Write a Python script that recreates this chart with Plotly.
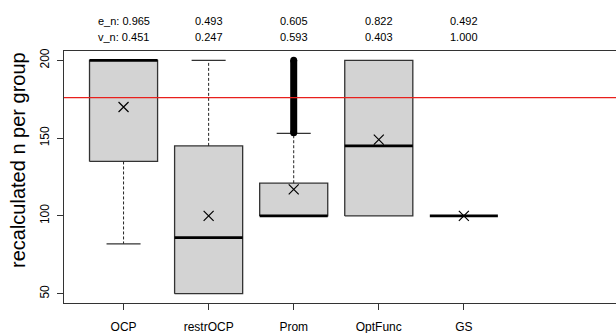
import plotly.graph_objects as go

groups = ["OCP", "restrOCP", "Prom", "OptFunc", "GS"]
q1 = [135, 50, 100, 100, 100]
median = [200, 86, 100, 145, 100]
q3 = [200, 145, 121, 200, 100]
lower_whisker = [82, 50, 100, 100, 100]
upper_whisker = [200, 200, 153, 200, 100]
means = [170, 100, 117, 149, 100]
prom_outlier_range = [153.5, 200]
e_n = ["0.965", "0.493", "0.605", "0.822", "0.492"]
v_n = ["0.451", "0.247", "0.593", "0.403", "1.000"]
ref_line = 176

W, H = 616, 333
L, R, T, B = 64, 0, 51, 30
plot_w = W - L - R
plot_h = H - T - B
x0 = 0.3
x1 = 1 + (W - R - 124) / 85.0
y0, y1 = 44, 206

pos = list(range(1, len(groups) + 1))
half = 0.4
cap = 0.2

fig = go.Figure()

# boxes
for i, p in enumerate(pos):
    if q3[i] > q1[i]:
        fig.add_trace(go.Scatter(
            x=[p - half, p + half, p + half, p - half, p - half],
            y=[q1[i], q1[i], q3[i], q3[i], q1[i]],
            mode="lines", fill="toself", fillcolor="#d3d3d3",
            line=dict(color="#333333", width=1.3), hoverinfo="skip"))

# whiskers (dashed) and caps
wx, wy, cx, cy = [], [], [], []
for i, p in enumerate(pos):
    if lower_whisker[i] < q1[i]:
        wx += [p, p, None]; wy += [q1[i], lower_whisker[i], None]
        cx += [p - cap, p + cap, None]; cy += [lower_whisker[i], lower_whisker[i], None]
    if upper_whisker[i] > q3[i]:
        wx += [p, p, None]; wy += [q3[i], upper_whisker[i], None]
        cx += [p - cap, p + cap, None]; cy += [upper_whisker[i], upper_whisker[i], None]
fig.add_trace(go.Scatter(x=wx, y=wy, mode="lines",
                         line=dict(color="#222222", width=1, dash="3px,2px"), hoverinfo="skip"))
fig.add_trace(go.Scatter(x=cx, y=cy, mode="lines",
                         line=dict(color="#333333", width=1.3), hoverinfo="skip"))

# medians
mx, my = [], []
for i, p in enumerate(pos):
    mx += [p - half, p + half, None]; my += [median[i], median[i], None]
fig.add_trace(go.Scatter(x=mx, y=my, mode="lines",
                         line=dict(color="black", width=2.7), hoverinfo="skip"))

# Prom outliers (dense)
prom_x = pos[groups.index("Prom")]
fig.add_trace(go.Scatter(x=[prom_x, prom_x], y=prom_outlier_range, mode="lines+markers",
                         line=dict(color="black", width=7),
                         marker=dict(symbol="circle", size=7, color="black"), hoverinfo="skip"))

# means
fig.add_trace(go.Scatter(x=pos, y=means, mode="markers",
                         marker=dict(symbol="x-thin-open", size=10, color="black",
                                     line=dict(color="black", width=1.2)), hoverinfo="skip"))

# reference line
fig.add_trace(go.Scatter(x=[x0, x1], y=[ref_line, ref_line], mode="lines",
                         line=dict(color="#e8201c", width=1.1), hoverinfo="skip"))

# top annotations
for i, p in enumerate(pos):
    t1 = ("e_n: " if i == 0 else "") + e_n[i]
    t2 = ("v_n: " if i == 0 else "") + v_n[i]
    fig.add_annotation(x=p, y=(T + plot_h - 21) / plot_h, xref="x", yref="paper",
                       text=t1, showarrow=False, font=dict(size=11, color="black"),
                       xanchor="center", yanchor="middle")
    fig.add_annotation(x=p, y=(T + plot_h - 37) / plot_h, xref="x", yref="paper",
                       text=t2, showarrow=False, font=dict(size=11, color="black"),
                       xanchor="center", yanchor="middle")

# y title
fig.add_annotation(x=(18 - L) / plot_w, y=(T + plot_h - 160) / plot_h, xref="paper", yref="paper",
                   text="recalculated n per group", textangle=-90, showarrow=False,
                   font=dict(size=20, color="black"), xanchor="center", yanchor="middle")

fig.update_layout(
    width=W, height=H, margin=dict(l=L, r=R, t=T, b=B, autoexpand=False),
    paper_bgcolor="white", plot_bgcolor="white", showlegend=False,
    font=dict(family="Liberation Sans, Arial, sans-serif", color="black"),
    xaxis=dict(range=[x0, x1], tickvals=pos, ticktext=groups, ticks="outside", ticklen=6,
               tickcolor="#333", showline=True, linecolor="#333", linewidth=1.3, mirror=True,
               showgrid=False, zeroline=False, tickfont=dict(size=12), ticklabelstandoff=6,
               automargin=False),
    yaxis=dict(range=[y0, y1], tickvals=[50, 100, 150, 200], tickangle=-90, ticks="outside",
               ticklen=6, tickcolor="#333", showline=True, linecolor="#333", linewidth=1.3,
               showgrid=False, zeroline=False, tickfont=dict(size=12), ticklabelstandoff=3,
               automargin=False),
)

fig.write_html("out.html", config={"displayModeBar": False},
               post_script="document.body.style.margin='0px';document.body.style.overflow='hidden';")
